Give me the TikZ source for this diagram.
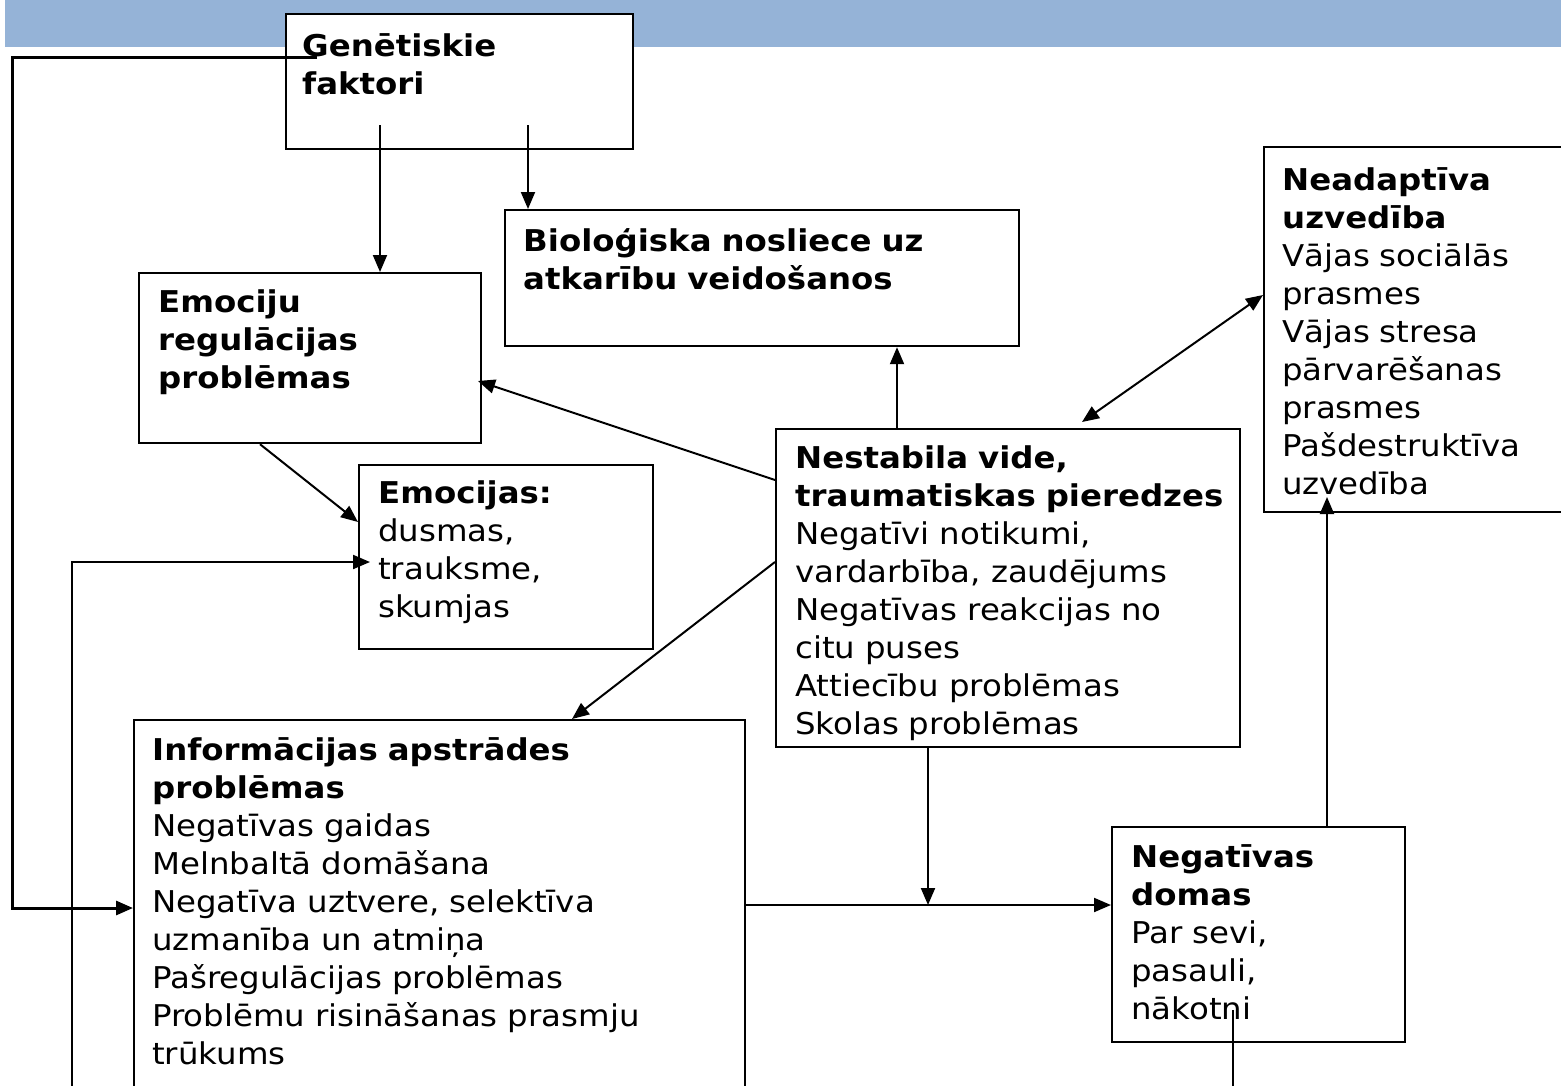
\documentclass[tikz,border=0pt]{standalone}
\usepackage{fontspec}
\setmainfont{DejaVu Sans}[FakeStretch=1.08]
\usetikzlibrary{arrows.meta}
\definecolor{band}{HTML}{95B3D7}
\newcommand\fl{\rule{0pt}{30pt}}
\begin{document}
\begin{tikzpicture}[x=1pt,y=-1pt,
  box/.style={draw, line width=2.2pt, fill=white, anchor=north west, inner sep=0pt},
  txt/.style={anchor=north west, inner sep=0pt, align=left, text width=700pt,
    font=\fontsize{30}{38}\selectfont},
  tip/.tip={Triangle[length=17pt,width=14pt]},
  arr/.style={line width=2pt, -tip},
  dbl/.style={line width=2pt, tip-tip},
  plain/.style={line width=2pt},
  fb/.style={line width=3pt}]
\useasboundingbox (0,0) rectangle (1561,1085);
\fill[white] (0,0) rectangle (1561,1085);
\fill[band] (5,0) rectangle (1561,47);

% boxes
\node[box, minimum width=347, minimum height=135] (gen) at (285,13) {};
\node[box, minimum width=514, minimum height=136] (bio) at (504,209) {};
\node[box, minimum width=342, minimum height=170] (emoreg) at (138,272) {};
\node[box, minimum width=294, minimum height=184] (emoc) at (358,464) {};
\node[box, minimum width=464, minimum height=318] (nest) at (775,428) {};
\node[box, minimum width=611, minimum height=390] (info) at (133,719) {};
\node[box, minimum width=293, minimum height=215] (neg) at (1111,826) {};
\node[box, minimum width=310, minimum height=365] (neadapt) at (1263,146) {};

% texts
\node[txt, font=\fontsize{30}{38}\selectfont\bfseries] (tgen) at (302,26) {\fl Genētiskie\\faktori};
\node[txt, font=\fontsize{30}{38}\selectfont\bfseries] (tbio) at (523,221) {\fl Bioloģiska nosliece uz\\atkarību veidošanos};
\node[txt, font=\fontsize{30}{38}\selectfont\bfseries] (temoreg) at (158,282) {\fl Emociju\\regulācijas\\problēmas};
\node[txt] (temoc) at (378,473) {\fl\textbf{Emocijas:}\\dusmas,\\trauksme,\\skumjas};
\node[txt] (tnest) at (795,438) {\fl\textbf{Nestabila vide,}\\\textbf{traumatiskas pieredzes}\\Negatīvi notikumi,\\vardarbība, zaudējums\\Negatīvas reakcijas no\\citu puses\\Attiecību problēmas\\Skolas problēmas};
\node[txt] (tinfo) at (152,730) {\fl\textbf{Informācijas apstrādes}\\\textbf{problēmas}\\Negatīvas gaidas\\Melnbaltā domāšana\\Negatīva uztvere, selektīva\\uzmanība un atmiņa\\Pašregulācijas problēmas\\Problēmu risināšanas prasmju\\trūkums};
\node[txt] (tneg) at (1131,837) {\fl\textbf{Negatīvas}\\\textbf{domas}\\Par sevi,\\pasauli,\\nākotni};
\node[txt] (tneadapt) at (1282,160) {\fl\textbf{Neadaptīva}\\\textbf{uzvedība}\\Vājas sociālās\\prasmes\\Vājas stresa\\pārvarēšanas\\prasmes\\Pašdestruktīva\\uzvedība};

% connector end points
\coordinate (g1) at (380,125);
\coordinate (g2) at (528,125);
\coordinate (g3) at (317,57);
\coordinate (fbL) at (12,57);
\coordinate (low) at (72,1090);
\coordinate (e2) at (370,562);
\coordinate (junc) at (928,905);
\coordinate (nb) at (1233,1010);
\coordinate (nbend) at (1233,1090);

% connectors
\draw[arr] (g1) -- (g1 |- emoreg.north);
\draw[arr] (g2) -- (g2 |- bio.north);
\draw[fb, -tip] (g3) -- (fbL) |- (info.west |- 0,908);
\draw[arr] (emoreg.south -| 260,0) -- (emoc.west |- 0,522);
\draw[arr] (low) |- (e2);
\draw[arr] (nest.west |- 0,480) -- (478,381);
\draw[arr] (nest.west |- 0,562) -- (572,719);
\draw[arr] (nest.north -| 897,0) -- (bio.south -| 897,0);
\draw[dbl] (1082,422) -- (neadapt.west |- 0,295);
\draw[arr] (nest.south -| junc) -- (junc);
\draw[arr] (info.east |- 0,905) -- (neg.west |- 0,905);
\draw[arr] (neg.north -| 1327,0) -- (1327,497);
\draw[plain] (nb) -- (nbend);
\end{tikzpicture}
\end{document}
